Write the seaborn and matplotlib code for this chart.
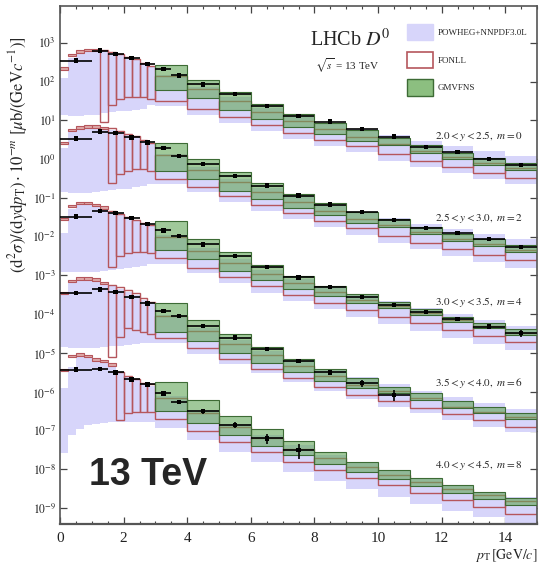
import numpy as np
import pandas as pd
import matplotlib
matplotlib.use("Agg")
import matplotlib.pyplot as plt
from matplotlib.patches import Patch
from matplotlib.ticker import FixedLocator, NullLocator, MultipleLocator, FuncFormatter
import seaborn as sns

# ---------------- categories ----------------
rapidity_labels = [r"$2.0 < y < 2.5,\ m = 0$", r"$2.5 < y < 3.0,\ m = 2$",
                   r"$3.0 < y < 3.5,\ m = 4$", r"$3.5 < y < 4.0,\ m = 6$",
                   r"$4.0 < y < 4.5,\ m = 8$"]
m_values = [0, 2, 4, 6, 8]

data_edges = [0, 1, 1.5, 2, 2.5, 3, 3.5, 4, 5, 6, 7, 8, 9, 10, 11, 12, 13, 14, 15]
theory_edges = [0, 0.25, 0.5, 0.75, 1, 1.25, 1.5, 1.75, 2, 2.25, 2.5, 2.75, 3,
                4, 5, 6, 7, 8, 9, 10, 11, 12, 13, 14, 15]
gmv_edges = [3, 4, 5, 6, 7, 8, 9, 10, 11, 12, 13, 14, 15]

# ---------------- values: log10 of d2sigma/dydpT [ub/(GeV/c)] (before 10^-m) ----------------
data_y0 = [2.54, 2.80, 2.71, 2.61, 2.45, 2.32, 2.16, 1.93, 1.68, 1.37, 1.12, 0.97, 0.77, 0.58, 0.32, 0.18, 0.01, -0.15]
data_y1 = [2.53, 2.71, 2.67, 2.56, 2.43, 2.28, 2.08, 1.87, 1.57, 1.32, 1.06, 0.83, 0.63, 0.43, 0.23, 0.09, -0.06, -0.26]
data_y2 = [2.52, 2.67, 2.61, 2.48, 2.32, 2.16, 2.02, 1.80, 1.50, 1.22, 0.95, 0.70, 0.45, 0.24, 0.05, -0.12, -0.32, -0.49]
data_y3 = [2.54, 2.64, 2.58, 2.44, 2.28, 2.09, 1.95, 1.70, 1.40, 1.10, 0.80, 0.50, 0.22, -0.08]
data_y4 = [2.57, 2.58, 2.50, 2.32, 2.19, 1.96, 1.74, 1.50, 1.15, 0.80, 0.50]
# relative uncertainties of the data points
data_err0 = [0.08, 0.06, 0.05, 0.05, 0.05, 0.05, 0.05, 0.05, 0.05, 0.05, 0.05, 0.05, 0.06, 0.06, 0.08, 0.08, 0.10, 0.12]
data_err1 = [0.08, 0.06, 0.05, 0.05, 0.05, 0.05, 0.05, 0.05, 0.05, 0.05, 0.05, 0.06, 0.06, 0.07, 0.08, 0.09, 0.10, 0.14]
data_err2 = [0.08, 0.06, 0.05, 0.05, 0.05, 0.05, 0.05, 0.05, 0.05, 0.06, 0.06, 0.07, 0.08, 0.09, 0.10, 0.12, 0.14, 0.20]
data_err3 = [0.08, 0.06, 0.05, 0.05, 0.05, 0.05, 0.06, 0.06, 0.07, 0.08, 0.10, 0.14, 0.20, 0.30]
data_err4 = [0.08, 0.07, 0.06, 0.06, 0.06, 0.07, 0.10, 0.14, 0.20, 0.28, 0.40]

fonll_hi0 = [2.37, 2.71, 2.81, 2.85, 2.85, 2.82, 2.76, 2.71, 2.64, 2.59, 2.49, 2.41, 2.15, 1.80, 1.50, 1.22, 0.98, 0.78, 0.56, 0.40, 0.22, 0.05, -0.10, -0.22]
fonll_lo0 = [2.31, 2.65, 2.75, 2.79, 2.79, 0.96, 1.40, 1.55, 1.61, 1.61, 1.60, 1.55, 1.49, 1.29, 1.08, 0.88, 0.67, 0.50, 0.33, 0.13, -0.05, -0.21, -0.36, -0.49]
fonll_hi1 = [2.45, 2.78, 2.85, 2.87, 2.87, 2.84, 2.80, 2.72, 2.66, 2.60, 2.50, 2.42, 2.10, 1.73, 1.42, 1.15, 0.90, 0.67, 0.46, 0.30, 0.11, -0.05, -0.20, -0.35]
fonll_lo1 = [2.39, 2.72, 2.79, 2.81, 2.81, 2.78, 1.38, 1.62, 1.70, 1.74, 1.75, 1.70, 1.49, 1.29, 1.05, 0.82, 0.60, 0.40, 0.22, 0.03, -0.15, -0.31, -0.46, -0.61]
fonll_hi2 = [2.48, 2.82, 2.90, 2.90, 2.85, 2.78, 2.67, 2.59, 2.52, 2.43, 2.35, 2.30, 2.00, 1.63, 1.32, 1.05, 0.80, 0.58, 0.36, 0.20, 0.03, -0.14, -0.31, -0.49]
fonll_lo2 = [2.42, 2.76, 2.84, 2.84, 2.79, 2.72, 1.23, 1.49, 1.59, 1.61, 1.61, 1.57, 1.44, 1.20, 0.95, 0.72, 0.50, 0.30, 0.12, -0.06, -0.23, -0.41, -0.57, -0.71]
fonll_hi3 = [2.58, 2.88, 2.95, 2.95, 2.93, 2.84, 2.75, 2.71, 2.63, 2.54, 2.41, 2.32, 1.95, 1.57, 1.24, 0.94, 0.66, 0.40, 0.17, 0.01, -0.16, -0.38, -0.51, -0.64]
fonll_lo3 = [2.52, 2.82, 2.89, 2.89, 2.87, 2.78, 0.90, 1.42, 1.64, 1.60, 1.55, 1.50, 1.38, 1.12, 0.85, 0.60, 0.36, 0.13, -0.07, -0.25, -0.43, -0.58, -0.73, -0.90]
fonll_hi4 = [2.60, 2.95, 2.99, 2.95, 2.86, 2.82, 2.73, 2.52, 2.41, 2.32, 2.22, 2.20, 1.85, 1.45, 1.10, 0.80, 0.52, 0.28, 0.06, -0.14, -0.33, -0.50, -0.66, -0.82]
fonll_lo4 = [2.54, 2.89, 2.93, 2.89, 2.80, 2.76, 2.67, 1.27, 1.46, 1.49, 1.49, 1.49, 1.31, 1.00, 0.70, 0.45, 0.20, -0.02, -0.22, -0.40, -0.60, -0.79, -0.97, -1.14]

powheg_hi0 = [2.10, 2.60, 2.72, 2.76, 2.78, 2.79, 2.74, 2.69, 2.62, 2.56, 2.47, 2.39, 2.17, 1.87, 1.60, 1.33, 1.10, 0.93, 0.77, 0.62, 0.47, 0.33, 0.20, 0.08]
powheg_lo0 = [1.15, 1.12, 1.12, 1.13, 1.15, 1.20, 1.22, 1.24, 1.25, 1.27, 1.30, 1.40, 1.38, 1.14, 0.93, 0.73, 0.52, 0.35, 0.18, -0.04, -0.20, -0.36, -0.51, -0.64]
powheg_hi1 = [2.30, 2.72, 2.82, 2.84, 2.84, 2.81, 2.76, 2.69, 2.63, 2.57, 2.48, 2.40, 2.12, 1.80, 1.50, 1.26, 1.02, 0.82, 0.64, 0.48, 0.33, 0.20, 0.07, -0.05]
powheg_lo1 = [1.15, 1.12, 1.12, 1.13, 1.15, 1.18, 1.20, 1.22, 1.24, 1.27, 1.30, 1.36, 1.36, 1.14, 0.90, 0.67, 0.45, 0.25, 0.05, -0.15, -0.33, -0.49, -0.65, -0.80]
powheg_hi2 = [2.10, 2.72, 2.85, 2.87, 2.83, 2.75, 2.66, 2.57, 2.50, 2.41, 2.33, 2.28, 2.05, 1.72, 1.42, 1.15, 0.92, 0.70, 0.50, 0.33, 0.16, 0.00, -0.16, -0.30]
powheg_lo2 = [1.10, 1.08, 1.08, 1.08, 1.10, 1.12, 1.15, 1.17, 1.19, 1.22, 1.25, 1.30, 1.30, 1.06, 0.80, 0.56, 0.34, 0.13, -0.06, -0.25, -0.42, -0.60, -0.76, -0.92]
powheg_hi3 = [2.55, 2.80, 2.88, 2.90, 2.86, 2.80, 2.72, 2.66, 2.58, 2.50, 2.38, 2.29, 1.98, 1.64, 1.33, 1.05, 0.80, 0.58, 0.38, 0.20, 0.03, -0.14, -0.30, -0.45]
powheg_lo3 = [1.15, 1.12, 1.12, 1.12, 1.13, 1.15, 1.17, 1.19, 1.21, 1.23, 1.25, 1.27, 1.25, 0.98, 0.72, 0.48, 0.24, 0.02, -0.18, -0.38, -0.56, -0.73, -0.90, -1.05]
powheg_hi4 = [2.10, 2.65, 2.90, 2.92, 2.85, 2.78, 2.70, 2.50, 2.40, 2.30, 2.20, 2.15, 1.90, 1.52, 1.18, 0.88, 0.62, 0.38, 0.16, -0.05, -0.24, -0.42, -0.58, -0.72]
powheg_lo4 = [0.42, 0.88, 1.05, 1.15, 1.18, 1.20, 1.22, 1.23, 1.23, 1.23, 1.23, 1.22, 1.06, 0.75, 0.45, 0.18, -0.07, -0.30, -0.52, -0.72, -0.90, -1.07, -1.23, -1.38]

gmv_lo0 = [1.79, 1.57, 1.27, 1.04, 0.82, 0.65, 0.47, 0.37, 0.17, 0.00, -0.15, -0.28]
gmv_hi0 = [2.43, 2.05, 1.74, 1.42, 1.17, 0.94, 0.74, 0.54, 0.37, 0.17, 0.03, -0.10]
gmv_lo1 = [1.70, 1.50, 1.18, 0.98, 0.74, 0.55, 0.36, 0.25, 0.06, -0.10, -0.25, -0.40]
gmv_hi1 = [2.41, 2.00, 1.66, 1.38, 1.11, 0.86, 0.64, 0.45, 0.26, 0.08, -0.07, -0.22]
gmv_lo2 = [1.65, 1.42, 1.12, 0.88, 0.65, 0.47, 0.30, 0.15, -0.02, -0.19, -0.36, -0.54]
gmv_hi2 = [2.40, 1.95, 1.60, 1.28, 0.98, 0.74, 0.52, 0.32, 0.13, -0.06, -0.22, -0.39]
gmv_lo3 = [1.55, 1.30, 1.00, 0.74, 0.50, 0.28, 0.10, -0.04, -0.21, -0.43, -0.56, -0.69]
gmv_hi3 = [2.30, 1.85, 1.48, 1.15, 0.85, 0.60, 0.35, 0.13, -0.04, -0.23, -0.39, -0.56]
gmv_lo4 = [1.50, 1.20, 0.88, 0.60, 0.36, 0.14, -0.06, -0.25, -0.43, -0.60, -0.76, -0.92]
gmv_hi4 = [2.25, 1.78, 1.38, 1.03, 0.72, 0.45, 0.20, -0.02, -0.22, -0.41, -0.58, -0.75]

y_ticks_exp = [-9, -8, -7, -6, -5, -4, -3, -2, -1, 0, 1, 2, 3]
x_ticks = [0, 2, 4, 6, 8, 10, 12, 14]

data_sets = [data_y0, data_y1, data_y2, data_y3, data_y4]
err_sets = [data_err0, data_err1, data_err2, data_err3, data_err4]
fonll_sets = [(fonll_lo0, fonll_hi0), (fonll_lo1, fonll_hi1), (fonll_lo2, fonll_hi2),
              (fonll_lo3, fonll_hi3), (fonll_lo4, fonll_hi4)]
powheg_sets = [(powheg_lo0, powheg_hi0), (powheg_lo1, powheg_hi1), (powheg_lo2, powheg_hi2),
               (powheg_lo3, powheg_hi3), (powheg_lo4, powheg_hi4)]
gmv_sets = [(gmv_lo0, gmv_hi0), (gmv_lo1, gmv_hi1), (gmv_lo2, gmv_hi2),
            (gmv_lo3, gmv_hi3), (gmv_lo4, gmv_hi4)]

# ---------------- style ----------------
sns.set_style("ticks")
plt.rcParams["font.family"] = ["Liberation Serif", "DejaVu Serif"]
plt.rcParams["mathtext.fontset"] = "stix"

C_POW = "#d7d5fa"
C_FONLL = "#b5565c"
C_FONLL_FILL = "#dfa9a9"
C_GMV = (0.40, 0.66, 0.36, 0.62)
C_GMV_EDGE = "#3d6b35"

fig = plt.figure(figsize=(5.39, 5.73), dpi=100)
ax = fig.add_axes([60 / 539, 49 / 573, 477 / 539, 518 / 573])

records = []
for k, m in enumerate(m_values):
    scale = 10.0 ** (-m)
    # POWHEG band
    lo, hi = powheg_sets[k]
    lo_v = 10.0 ** np.array(lo) * scale
    hi_v = 10.0 ** np.array(hi) * scale
    ax.fill_between(theory_edges, np.r_[lo_v, lo_v[-1]], np.r_[hi_v, hi_v[-1]],
                    step="post", color=C_POW, lw=0, zorder=1)
    # FONLL boxes
    lo, hi = fonll_sets[k]
    lo_v = 10.0 ** np.array(lo) * scale
    hi_v = 10.0 ** np.array(hi) * scale
    left = np.array(theory_edges[:-1])
    width = np.diff(theory_edges)
    thin = (np.array(hi) - np.array(lo)) < 0.1
    ax.bar(left[thin], (hi_v - lo_v)[thin], bottom=lo_v[thin], width=width[thin],
           align="edge", facecolor=C_FONLL_FILL, edgecolor=C_FONLL, lw=0.8, zorder=2)
    ax.bar(left[~thin], (hi_v - lo_v)[~thin], bottom=lo_v[~thin], width=width[~thin],
           align="edge", facecolor="none", edgecolor=C_FONLL, lw=1.0, zorder=2)
    # GMVFNS boxes
    lo, hi = gmv_sets[k]
    lo_v = 10.0 ** np.array(lo) * scale
    hi_v = 10.0 ** np.array(hi) * scale
    ax.bar(gmv_edges[:-1], hi_v - lo_v, bottom=lo_v, width=np.diff(gmv_edges),
           align="edge", facecolor=C_GMV, edgecolor=C_GMV_EDGE, lw=0.8, zorder=3)
    # data
    vals = data_sets[k]
    n = len(vals)
    e = np.array(data_edges[: n + 1])
    for i in range(n):
        records.append({"pt": 0.5 * (e[i] + e[i + 1]), "half": 0.5 * (e[i + 1] - e[i]),
                        "val": 10.0 ** vals[i] * scale, "err": err_sets[k][i],
                        "bin": rapidity_labels[k]})

df = pd.DataFrame(records)
ax.errorbar(df["pt"], df["val"], xerr=df["half"], yerr=df["val"] * df["err"],
            fmt="none", ecolor="black", elinewidth=1.2, capsize=0, zorder=5)
sns.scatterplot(data=df, x="pt", y="val", color="black", s=10, edgecolor="none",
                marker="s", ax=ax, zorder=6, legend=False)

ax.set_yscale("log")
ax.set_xlim(0, 15)
ax.set_ylim(10 ** -9.41, 10 ** 3.95)
ax.set_xlabel("")
ax.set_ylabel("")

ax.yaxis.set_major_locator(FixedLocator([10.0 ** p for p in y_ticks_exp]))
ax.yaxis.set_minor_locator(NullLocator())
ax.yaxis.set_major_formatter(FuncFormatter(lambda v, p: r"$10^{%d}$" % round(np.log10(v))))
ax.xaxis.set_major_locator(FixedLocator(x_ticks))
ax.xaxis.set_minor_locator(MultipleLocator(0.5))
ax.tick_params(which="both", direction="in", top=True, right=True, colors="#444444",
               labelcolor="#222222")
ax.tick_params(which="major", length=5, width=0.9)
ax.tick_params(which="minor", length=2.5, width=0.8)
ax.tick_params(axis="x", labelsize=11, pad=6)
ax.tick_params(axis="y", labelsize=8.5, pad=3)
for s in ax.spines.values():
    s.set_color("#555555")
    s.set_linewidth(1.2)
ax.spines["bottom"].set_linewidth(1.6)

# rapidity labels
label_y = [0.749, 0.591, 0.4286, 0.272, 0.114]
for k in range(5):
    ax.text(0.969, label_y[k], rapidity_labels[k], transform=ax.transAxes,
            ha="right", va="center", fontsize=8, zorder=8)

ax.text(0.524, 0.934, r"LHCb $D^0$", transform=ax.transAxes, ha="left", va="center",
        fontsize=14.5, zorder=8)
ax.text(0.535, 0.884, r"$\sqrt{s}$ = 13 TeV", transform=ax.transAxes, ha="left",
        va="center", fontsize=8, zorder=8)

handles = [Patch(facecolor=C_POW, edgecolor=C_POW),
           Patch(facecolor="white", edgecolor=C_FONLL, lw=1.2),
           Patch(facecolor=(0.55, 0.75, 0.50), edgecolor=C_GMV_EDGE, lw=1.0)]
ax.legend(handles, ["POWHEG+NNPDF3.0L", "FONLL", "GMVFNS"], loc="upper left",
          bbox_to_anchor=(0.72, 0.972), frameon=False, fontsize=6.5,
          handlelength=2.9, handleheight=2.4, labelspacing=1.25, handletextpad=0.5,
          borderaxespad=0.0)

fig.text(0.034, 0.73,
         r"$(\mathrm{d}^2\sigma)/(\mathrm{d}y\mathrm{d}p_{\mathrm{T}})\cdot 10^{-m}\ [\mu\mathrm{b}/(\mathrm{GeV}c^{-1})]$",
         rotation=90, ha="center", va="center", fontsize=12)
fig.text(0.998, 0.031, r"$p_{\mathrm{T}}\,[\mathrm{GeV}/c]$", ha="right", va="center",
         fontsize=10)
fig.text(0.165, 0.1536, "13 TeV", ha="left", va="baseline", fontsize=27,
         fontweight="bold", family=["Liberation Sans", "DejaVu Sans"])

fig.savefig("out.png", dpi=100)
